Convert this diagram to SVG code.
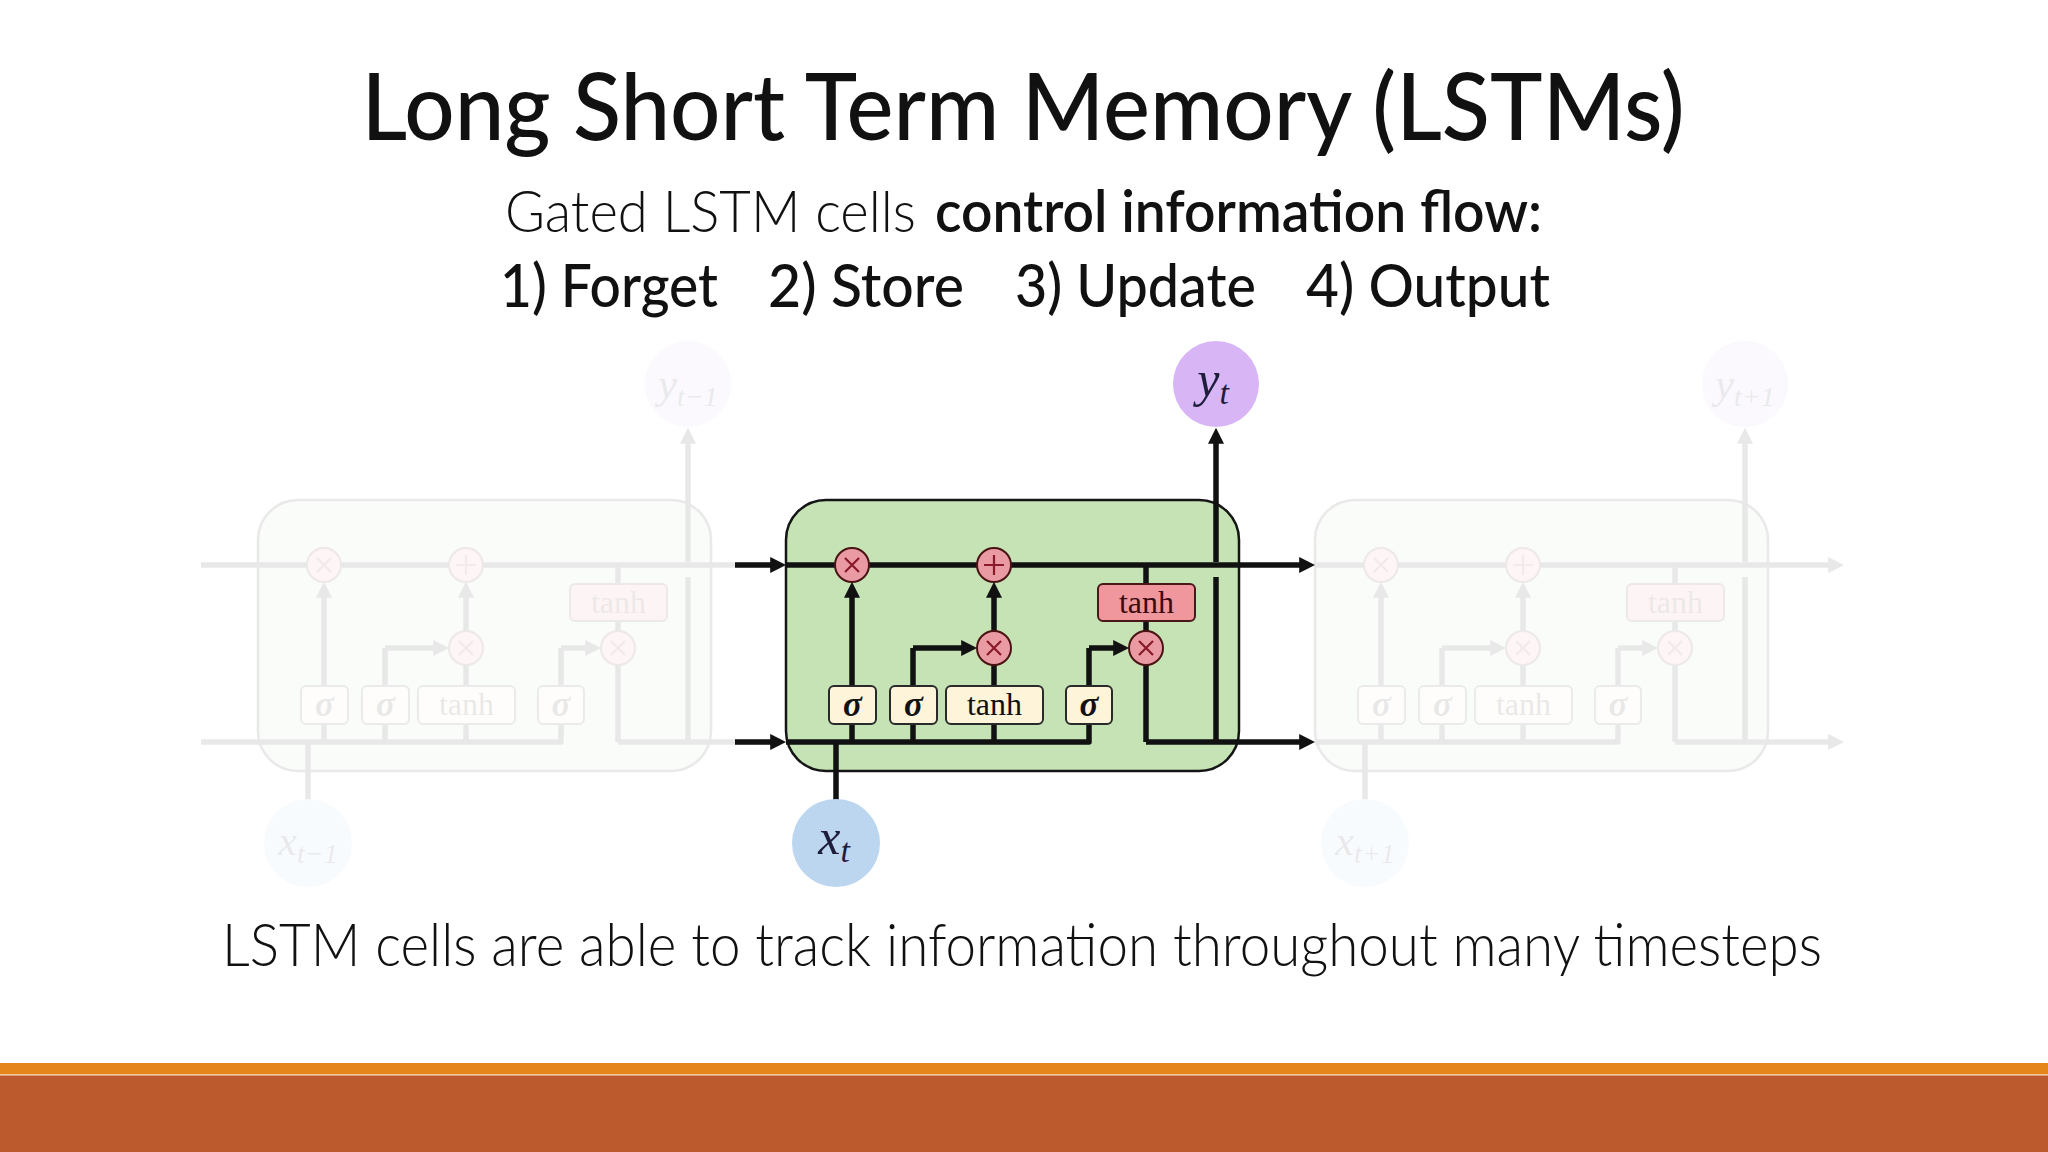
<svg xmlns="http://www.w3.org/2000/svg" xmlns:xlink="http://www.w3.org/1999/xlink" width="2048" height="1152" viewBox="0 0 2048 1152">
<defs>
<style>
.ln{fill:none;stroke:#111;stroke-width:5.5;stroke-linejoin:round}
.arr{marker-end:url(#ah)}
.op circle{fill:#ea9aa2;stroke:#4a1414;stroke-width:2}
.op path{fill:none;stroke:#8a1a2a;stroke-width:2.2}
.gate rect{fill:#fdf4da;stroke:#2a2a2a;stroke-width:2}
.gtxt{font-family:"Liberation Serif","DejaVu Serif",serif;fill:#111;text-anchor:middle}
.sig{font-size:35px;font-weight:bold;font-style:italic}
.th{font-size:32px}
.red rect{fill:#f0979e;stroke:#4a1818;stroke-width:2}
.red text{fill:#3a0a10}
.var{font-family:"Liberation Serif","DejaVu Serif",serif;font-style:italic;fill:#1e1e3c;text-anchor:middle}
.hd{font-family:"Lato","Liberation Sans",sans-serif;fill:#111}
</style>
<marker id="ah" viewBox="0 0 10 10" refX="3" refY="5" markerWidth="16" markerHeight="16" markerUnits="userSpaceOnUse" orient="auto">
<path d="M0,0 L10,5 L0,10 z" fill="#111"/>
</marker>
</defs>
<rect x="0" y="0" width="2048" height="1152" fill="#ffffff"/>

<!-- headings -->
<g id="title">
<text class="hd" x="1023" y="140" font-size="92" font-weight="500" text-anchor="middle" textLength="1323" lengthAdjust="spacingAndGlyphs">Long Short Term Memory (LSTMs)</text>
</g>
<g id="subtitle">
<text class="hd" x="505" y="232" font-size="58" font-weight="300" textLength="411" lengthAdjust="spacingAndGlyphs">Gated LSTM cells</text>
<text class="hd" x="935" y="232" font-size="58" font-weight="600" textLength="607" lengthAdjust="spacingAndGlyphs">control information flow:</text>
<text class="hd" x="500" y="307" font-size="60" font-weight="500" textLength="218" lengthAdjust="spacingAndGlyphs">1) Forget</text>
<text class="hd" x="768" y="307" font-size="60" font-weight="500" textLength="196" lengthAdjust="spacingAndGlyphs">2) Store</text>
<text class="hd" x="1015" y="307" font-size="60" font-weight="500" textLength="241" lengthAdjust="spacingAndGlyphs">3) Update</text>
<text class="hd" x="1306" y="307" font-size="60" font-weight="500" textLength="244" lengthAdjust="spacingAndGlyphs">4) Output</text>
</g>

<!-- ghost cells -->
<g id="ghost-left" opacity="0.09">
<path class="ln" d="M201,565 H262 M201,742 H262"/>
<use xlink:href="#cell-t" href="#cell-t" transform="translate(-528,0)"/>
<circle cx="688" cy="384" r="43" fill="#d8b6f6"/>
<text class="var" x="688" y="398" font-size="42">y<tspan font-size="28" dy="8">t−1</tspan></text>
<circle cx="308" cy="843" r="44" fill="#bcd6f0"/>
<text class="var" x="308" y="855" font-size="42">x<tspan font-size="28" dy="8">t−1</tspan></text>
</g>
<g id="ghost-right" opacity="0.09">
<use xlink:href="#cell-t" href="#cell-t" transform="translate(529,0)"/>
<circle cx="1745" cy="384" r="43" fill="#d8b6f6"/>
<text class="var" x="1745" y="398" font-size="42">y<tspan font-size="28" dy="8">t+1</tspan></text>
<circle cx="1365" cy="843" r="44" fill="#bcd6f0"/>
<text class="var" x="1365" y="855" font-size="42">x<tspan font-size="28" dy="8">t+1</tspan></text>
</g>

<!-- main cell -->
<g id="cell-t">
<rect id="cell-box" x="786" y="500" width="453" height="271" rx="40" fill="#c6e3b5" stroke="#151515" stroke-width="2.5"/>
<g id="connectors">
<path class="ln arr" d="M786,565 H1304"/>
<path class="ln" d="M786,742 H1089 V648"/>
<path class="ln arr" d="M1089,648 H1118"/>
<path class="ln arr" d="M852,742 V593"/>
<path class="ln" d="M913,742 V648"/>
<path class="ln arr" d="M913,648 H966"/>
<path class="ln arr" d="M994,742 V593"/>
<path class="ln" d="M1146,565 V742"/>
<path class="ln arr" d="M1146,742 H1304"/>
<path class="ln" d="M1216,742 V577"/>
<path class="ln arr" d="M1216,562 V439"/>
<path class="ln" d="M836,801 V742"/>
</g>
<g id="op-forget" class="op"><circle cx="852" cy="565" r="17"/><path d="M845,558 L859,572 M859,558 L845,572"/></g>
<g id="op-add" class="op"><circle cx="994" cy="565" r="17"/><path d="M984,565 H1004 M994,555 V575"/></g>
<g id="op-input" class="op"><circle cx="994" cy="648" r="17"/><path d="M987,641 L1001,655 M1001,641 L987,655"/></g>
<g id="op-output" class="op"><circle cx="1146" cy="648" r="17"/><path d="M1139,641 L1153,655 M1153,641 L1139,655"/></g>
<g id="tanh-out" class="red"><rect x="1098" y="584" width="97" height="37" rx="5"/><text class="gtxt th" x="1146.5" y="613">tanh</text></g>
<g id="gate-forget" class="gate"><rect x="829" y="686" width="47" height="38" rx="5"/><text class="gtxt sig" x="852.5" y="716">σ</text></g>
<g id="gate-input" class="gate"><rect x="890" y="686" width="47" height="38" rx="5"/><text class="gtxt sig" x="913.5" y="716">σ</text></g>
<g id="gate-cand" class="gate"><rect x="946" y="686" width="97" height="38" rx="5"/><text class="gtxt th" x="994.5" y="715">tanh</text></g>
<g id="gate-output" class="gate"><rect x="1066" y="686" width="46" height="38" rx="5"/><text class="gtxt sig" x="1089" y="716">σ</text></g>
</g>

<g id="input-arrows">
<path class="ln arr" d="M735,565 H775"/>
<path class="ln arr" d="M735,742 H775"/>
</g>

<g id="node-yt">
<circle cx="1216" cy="384" r="43" fill="#d8b6f6"/>
<text class="var" x="1213" y="396" font-size="50">y<tspan font-size="34" dy="8">t</tspan></text>
</g>
<g id="node-xt">
<circle cx="836" cy="843" r="44" fill="#bcd6f0"/>
<text class="var" x="834" y="854" font-size="50">x<tspan font-size="34" dy="8">t</tspan></text>
</g>

<g id="caption">
<text class="hd" x="222" y="966" font-size="60" font-weight="300" textLength="1600" lengthAdjust="spacingAndGlyphs">LSTM cells are able to track information throughout many timesteps</text>
</g>

<g id="footer">
<rect x="0" y="1063" width="2048" height="11" fill="#e4861a"/>
<rect x="0" y="1074" width="2048" height="1.5" fill="#f2c89a"/>
<rect x="0" y="1075.5" width="2048" height="76.5" fill="#bc5a2e"/>
</g>
</svg>
